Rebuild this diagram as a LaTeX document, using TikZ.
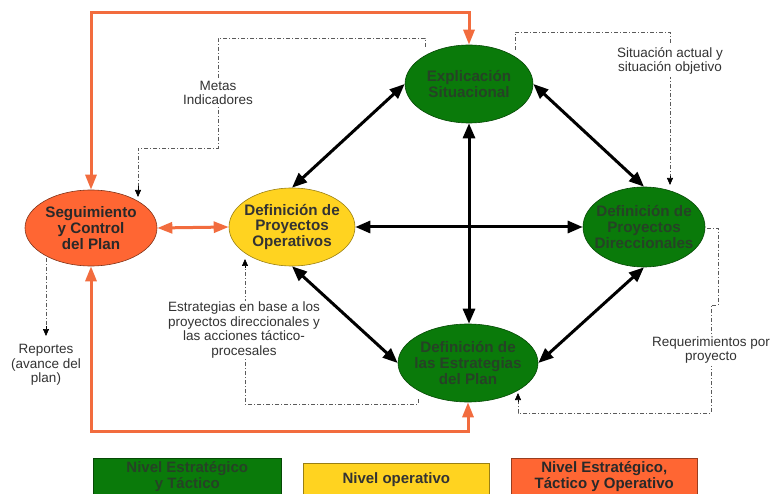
\documentclass[tikz,border=0pt]{standalone}
\usepackage{fontspec}
\setmainfont{Liberation Sans}
\usetikzlibrary{shapes.geometric,arrows.meta}
\definecolor{cgreen}{RGB}{10,122,10}
\definecolor{corange}{RGB}{255,102,51}
\definecolor{cyellow}{RGB}{255,211,32}
\definecolor{cline}{RGB}{242,108,62}
\definecolor{gtext}{RGB}{38,66,38}
\definecolor{dtext}{RGB}{51,51,51}
\definecolor{ddgray}{RGB}{90,90,90}
\begin{document}
\begin{tikzpicture}[x=1pt,y=-1pt,
  ellbase/.style={ellipse, inner xsep=-18pt, inner ysep=-10pt, align=center, line width=0.6pt,
    font=\fontsize{15.2}{15.8}\selectfont\bfseries},
  greenell/.style={ellbase, fill=cgreen, draw=cgreen!60!black, text=gtext},
  yellowell/.style={ellbase, fill=cyellow, draw=cyellow!60!black, text=dtext},
  orangeell/.style={ellbase, fill=corange, draw=corange!50!black, text=dtext!80!black},
  lbl/.style={align=center, text=dtext, fill=white, inner sep=2pt,
    font=\fontsize{13.5}{14.5}\selectfont},
  blk/.style={line width=3pt, black, {Triangle[length=15pt,width=12pt]}-{Triangle[length=15pt,width=12pt]}},
  oline/.style={line width=3pt, cline},
  obot/.style={oline, {Triangle[length=15pt,width=11pt]}-{Triangle[length=15pt,width=11pt]}},
  dd/.style={ddgray, line width=0.7pt, dash pattern=on 4pt off 2pt on 1pt off 2pt},
  ddarr/.style={dd, -{Triangle[length=7pt,width=6pt]}, black},
  legbox/.style={draw=#1!60!black, fill=#1, line width=0.6pt, minimum height=36pt, minimum width=188pt, inner sep=0pt,
    align=center, font=\fontsize{15}{16}\selectfont\bfseries}
]
\useasboundingbox (0,0) rectangle (771,494);
\fill[white] (0,0) rectangle (771,494);

% ellipses
\node[greenell, minimum width=128pt, minimum height=78pt] (es) at (469,84) {Explicación\\Situacional};
\node[greenell, minimum width=122pt, minimum height=80pt] (pd) at (644,227) {Definición de\\Proyectos\\Direccionales};
\node[greenell, minimum width=140pt, minimum height=78pt] (ep) at (468,363) {Definición de\\las Estrategias\\del Plan};
\node[orangeell, minimum width=132pt, minimum height=76pt] (sc) at (91,228) {Seguimiento\\y Control\\del Plan};
\node[yellowell, minimum width=126pt, minimum height=78pt] (po) at (292,227) {Definición de\\Proyectos\\Operativos};

% black double arrows
\draw[blk] (po.north) -- (es.west);
\draw[blk] (es.east) -- (pd.north);
\draw[blk] (po.east) -- (pd.west);
\draw[blk] (es.south) -- (es.south |- ep.north);
\draw[blk] (po.south) -- (ep.west);
\draw[blk] (pd.south) -- (ep.east);

% orange connectors
\coordinate (topy) at (0,13);
\coordinate (boty) at (0,431);
\draw[obot] (sc.north) -- (sc.north |- topy) -| (es.north);
\draw[obot] (sc.south) -- (sc.south |- boty) -| (ep.south);
\draw[obot] (sc.east) -- (po.west);

% dash-dot information flows
\coordinate (m0) at (425,47);
\coordinate (m1) at (138,197);
\draw[dd] (m0) -- (425,38) -- (218,38) -- (218,148) -- (138,148) -- (138,190);
\draw[ddarr] (138,186) -- (m1);
\node[lbl] (metas) at (218,93) {Metas\\Indicadores};

\coordinate (s0) at (515,50);
\coordinate (s1) at (670,185);
\draw[dd] (s0) -- (515,32) -- (670,32) -- (670,178);
\draw[ddarr] (670,176) -- (s1);
\node[lbl] (sit) at (670,61) {Situación actual y\\situación objetivo};

\coordinate (r0) at (707,228);
\coordinate (r1) at (518,393);
\draw[dd] (r0) -- (718,228) -- (718,305) -- (711,305) -- (711,413) -- (518,413) -- (518,400);
\draw[ddarr] (518,402) -- (r1);
\node[lbl] (req) at (711,350) {Requerimientos por\\proyecto};

\coordinate (e0) at (418,399);
\coordinate (e1) at (245,259);
\draw[dd] (e0) -- (418,404) -- (245,404) -- (245,266);
\draw[ddarr] (245,268) -- (e1);
\node[lbl, inner sep=1pt] (estr) at (244,330) {Estrategias en base a los\\proyectos direccionales y\\las acciones táctico-\\procesales};

\coordinate (p0) at (46,258);
\coordinate (p1) at (46,336);
\draw[dd] (p0) -- (46,328);
\draw[ddarr] (46,326) -- (p1);
\node[align=center, text=dtext, inner sep=0pt, font=\fontsize{13.5}{14.5}\selectfont] (rep) at (46,365) {Reportes\\(avance del\\plan)};

% legend
\node[legbox=cgreen, text=gtext, anchor=north west, minimum height=37pt] (lg) at (93,458) {Nivel Estratégico\\y Táctico};
\node[legbox=cyellow, text=dtext, anchor=north west, minimum width=186pt, minimum height=32pt] (ly) at (303,463) {Nivel operativo};
\node[legbox=corange, text=dtext!80!black, anchor=north west, minimum width=186pt, minimum height=37pt] (lo) at (511,458) {Nivel Estratégico,\\Táctico y Operativo};
\end{tikzpicture}
\end{document}
